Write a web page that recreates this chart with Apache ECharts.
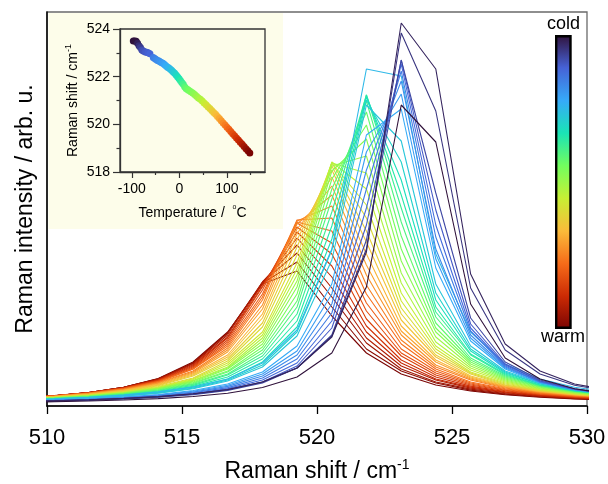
<!DOCTYPE html>
<html><head><meta charset="utf-8">
<script src="https://cdn.jsdelivr.net/npm/echarts@6/dist/echarts.min.js"></script>
<style>html,body{margin:0;padding:0;background:#fff}#c{width:608px;height:484px}</style>
</head><body><div id="c"></div>
<script>
// Raman shift grid (cm-1) shared by all spectra
const ramanShift = [508.98, 510.27, 511.55, 512.84, 514.12, 515.41, 516.69, 517.98, 519.26, 520.55, 521.83, 523.12, 524.40, 525.69, 526.97, 528.26, 529.54, 530.83];
// spectra, cold (s00) -> warm (s40), intensity in arb. u.
const s00 = [2.7, 3.3, 4.0, 5.0, 6.4, 8.5, 11.8, 17.5, 28, 52, 118, 300, 263, 101, 47, 26, 16.2, 11.1];
const s01 = [3.6, 4.3, 5.3, 6.6, 8.4, 11.2, 15.5, 23, 37, 68, 153, 382, 336, 131, 61, 34, 21, 14.6];
const s02 = [3.5, 4.2, 5.1, 6.4, 8.2, 11.0, 15.3, 23, 37, 69, 156, 372, 294, 117, 55, 31, 19.8, 13.6];
const s03 = [3.2, 3.9, 4.7, 6.0, 7.7, 10.3, 14.6, 22, 37, 70, 165, 345, 212, 87, 43, 25, 16.2, 11.3];
const s04 = [3.3, 4.0, 4.9, 6.2, 8.1, 10.9, 15.4, 23, 39, 77, 180, 345, 195, 81, 41, 24, 15.9, 11.2];
const s05 = [3.5, 4.2, 5.2, 6.5, 8.5, 11.5, 16.4, 25, 42, 84, 197, 341, 180, 77, 40, 24, 15.7, 11.1];
const s06 = [3.6, 4.4, 5.4, 6.9, 9.0, 12.2, 17.4, 27, 46, 92, 216, 334, 168, 74, 39, 23, 15.6, 11.1];
const s07 = [3.8, 4.6, 5.7, 7.2, 9.5, 12.9, 18.6, 29, 50, 101, 235, 324, 156, 70, 38, 23, 15.5, 11.1];
const s08 = [4.0, 4.8, 6.0, 7.6, 10.0, 13.7, 19.8, 31, 54, 111, 253, 311, 146, 67, 37, 23, 15.4, 11.0];
const s09 = [4.2, 5.1, 6.3, 8.0, 10.5, 14.5, 21, 33, 59, 121, 270, 296, 137, 64, 36, 22, 15.3, 11.0];
const s10 = [5.1, 6.2, 7.7, 9.9, 13.1, 18.0, 26, 42, 75, 156, 336, 329, 151, 73, 41, 26, 17.8, 12.9];
const s11 = [4.5, 5.5, 6.9, 8.9, 11.7, 16.3, 24, 38, 69, 145, 300, 264, 121, 59, 34, 22, 15.0, 11.0];
const s12 = [4.6, 5.7, 7.1, 9.1, 12.1, 16.9, 25, 40, 73, 155, 305, 243, 112, 56, 33, 21, 14.6, 10.7];
const s13 = [4.8, 5.9, 7.3, 9.5, 12.6, 17.7, 26, 43, 78, 166, 308, 225, 105, 54, 32, 21, 14.4, 10.6];
const s14 = [5.0, 6.1, 7.6, 9.9, 13.2, 18.6, 28, 46, 84, 179, 310, 210, 98, 51, 31, 20, 14.2, 10.5];
const s15 = [5.2, 6.4, 8.0, 10.4, 13.9, 19.6, 30, 49, 91, 193, 310, 197, 93, 50, 30, 19.8, 14.0, 10.4];
const s16 = [5.3, 6.6, 8.3, 10.8, 14.5, 20.6, 31, 52, 98, 206, 304, 183, 88, 47, 29, 19.4, 13.8, 10.3];
const s17 = [5.5, 6.7, 8.5, 11.1, 15.0, 21.4, 33, 55, 104, 216, 293, 169, 82, 45, 28, 18.8, 13.5, 10.1];
const s18 = [5.6, 6.9, 8.8, 11.4, 15.5, 22.3, 34, 58, 111, 226, 280, 156, 77, 43, 27, 18.2, 13.1, 9.9];
const s19 = [5.7, 7.1, 9.0, 11.8, 16.1, 23.1, 36, 61, 118, 234, 266, 144, 73, 41, 26, 17.7, 12.8, 9.7];
const s20 = [5.8, 7.2, 9.2, 12.1, 16.5, 23.9, 37, 64, 124, 239, 249, 132, 68, 39, 25, 17.0, 12.4, 9.4];
const s21 = [5.9, 7.3, 9.3, 12.3, 16.9, 24.6, 38, 67, 130, 242, 232, 122, 63, 37, 24, 16.4, 12.0, 9.1];
const s22 = [6.0, 7.4, 9.5, 12.6, 17.4, 25.4, 40, 70, 136, 243, 216, 112, 59, 35, 23, 15.8, 11.6, 8.8];
const s23 = [6.1, 7.6, 9.7, 12.9, 17.8, 26.2, 42, 73, 142, 242, 200, 104, 56, 33, 22, 15.2, 11.2, 8.6];
const s24 = [6.2, 7.8, 10.0, 13.3, 18.5, 27, 44, 78, 150, 242, 187, 97, 53, 32, 21, 14.8, 11.0, 8.4];
const s25 = [6.4, 8.0, 10.3, 13.7, 19.2, 29, 46, 82, 158, 239, 174, 91, 50, 31, 20, 14.4, 10.8, 8.3];
const s26 = [6.5, 8.2, 10.6, 14.2, 19.9, 30, 48, 87, 165, 235, 163, 85, 48, 29, 19.7, 14.1, 10.5, 8.1];
const s27 = [6.6, 8.4, 10.8, 14.6, 20.6, 31, 50, 91, 171, 228, 151, 79, 45, 28, 19.0, 13.6, 10.2, 7.9];
const s28 = [6.8, 8.5, 11.1, 15.0, 21.2, 32, 53, 96, 176, 219, 140, 74, 43, 27, 18.4, 13.2, 10.0, 7.8];
const s29 = [6.9, 8.7, 11.4, 15.4, 21.9, 33, 55, 100, 181, 210, 130, 70, 40, 26, 17.7, 12.8, 9.7, 7.6];
const s30 = [7.0, 8.9, 11.6, 15.8, 22.5, 34, 57, 105, 184, 199, 120, 65, 38, 25, 17.0, 12.4, 9.4, 7.4];
const s31 = [7.1, 9.0, 11.8, 16.1, 23.1, 36, 59, 108, 185, 187, 111, 61, 36, 23, 16.3, 11.9, 9.1, 7.1];
const s32 = [7.1, 9.1, 11.9, 16.3, 23.5, 36, 61, 111, 183, 174, 102, 56, 34, 22, 15.5, 11.4, 8.7, 6.9];
const s33 = [7.2, 9.2, 12.1, 16.6, 24.0, 37, 63, 115, 182, 162, 94, 52, 32, 21, 14.8, 11.0, 8.4, 6.6];
const s34 = [7.2, 9.2, 12.2, 16.9, 24.5, 38, 65, 118, 178, 151, 86, 49, 30, 20, 14.2, 10.5, 8.1, 6.4];
const s35 = [7.2, 9.3, 12.3, 17.0, 24.8, 39, 67, 119, 173, 139, 79, 45, 28, 18.9, 13.4, 10.0, 7.7, 6.1];
const s36 = [7.2, 9.3, 12.4, 17.2, 25.3, 40, 68, 121, 167, 128, 73, 42, 26, 17.9, 12.8, 9.6, 7.4, 5.9];
const s37 = [7.2, 9.3, 12.5, 17.4, 25.7, 41, 70, 123, 160, 117, 67, 39, 25, 16.9, 12.2, 9.1, 7.1, 5.7];
const s38 = [7.2, 9.4, 12.5, 17.6, 26.0, 42, 72, 123, 152, 108, 62, 36, 23, 15.9, 11.5, 8.7, 6.8, 5.4];
const s39 = [7.2, 9.3, 12.5, 17.6, 26.2, 42, 72, 122, 143, 98, 56, 34, 22, 14.9, 10.9, 8.2, 6.4, 5.1];
const s40 = [7.1, 9.3, 12.5, 17.6, 26.4, 43, 73, 121, 134, 89, 52, 31, 20, 14.0, 10.3, 7.8, 6.1, 4.9];
const spectraList = [s00,s01,s02,s03,s04,s05,s06,s07,s08,s09,s10,s11,s12,s13,s14,s15,s16,s17,s18,s19,s20,
                     s21,s22,s23,s24,s25,s26,s27,s28,s29,s30,s31,s32,s33,s34,s35,s36,s37,s38,s39,s40];

// inset: peak position vs temperature
const insetTemperature = [-97,-94,-91,-88,-85,-82,-79,-76,-72,-69,-66,-62,-55,-52,-49,-46,-43,-40,-37,-34,
  -31,-28,-25,-22,-19,-16,-13,-10,-7,-4,-1,2,5,8,11,14,17,20,24,28,32,36,40,44,48,52,56,60,64,68,
  72,76,80,84,88,92,96,100,104,108,112,116,120,124,128,132,136,140,144,148];
const insetShift = [523.50,523.50,523.49,523.40,523.30,523.22,523.12,523.08,523.04,523.02,523.00,522.96,522.80,522.76,522.72,522.68,522.66,522.62,522.58,522.55,
  522.50,522.45,522.40,522.36,522.31,522.26,522.20,522.14,522.07,522.00,521.92,521.84,521.76,521.68,521.58,521.50,521.46,521.42,521.37,521.31,
  521.25,521.18,521.11,521.05,520.98,520.90,520.82,520.74,520.66,520.58,520.50,520.42,520.33,520.24,520.15,520.06,519.97,519.88,519.79,519.70,
  519.61,519.52,519.43,519.34,519.25,519.16,519.07,518.98,518.89,518.80];

// tick labels
const insetXMajorTicks = [-100, 0, 100];
const insetXMinorTicks = [-50, 50, 150];
const colorbarLabels = ['cold', 'warm'];

const FONT = '"Liberation Sans", Arial, Helvetica, sans-serif';
const turboStops = ['#30123b','#4662d7','#36aaf9','#1ae4b6','#72fe5e','#c7ef34','#fabb3a','#f66b19','#cb2a04','#7a0403'];
function h2r(h){return [parseInt(h.substr(1,2),16),parseInt(h.substr(3,2),16),parseInt(h.substr(5,2),16)];}
function turbo(t){
  t = Math.max(0, Math.min(1, t));
  const p = t * (turboStops.length - 1);
  const i = Math.min(turboStops.length - 2, Math.floor(p));
  const f = p - i;
  const a = h2r(turboStops[i]), b = h2r(turboStops[i+1]);
  return 'rgb(' + a.map((v,j)=>Math.round(v + (b[j]-v)*f)).join(',') + ')';
}

const chart = echarts.init(document.getElementById('c'), null, {renderer:'canvas'});
const series = [];
const n = spectraList.length;
for (let k = n - 1; k >= 0; k--) {
  series.push({
    type:'line', xAxisIndex:0, yAxisIndex:0, name:'T' + k,
    data: ramanShift.map((x,i)=>[x, spectraList[k][i]]),
    symbol:'none', showSymbol:false, silent:true, clip:true, z:2,
    lineStyle:{width:1.1, color: turbo(k/(n-1))}
  });
}
series.push({
  type:'scatter', xAxisIndex:1, yAxisIndex:1, silent:true, z:14,
  symbolSize:7,
  data: insetTemperature.map((t,i)=>({value:[t, insetShift[i]], itemStyle:{color: turbo((523.5 - insetShift[i])/4.7), opacity:1}}))
});

const option = {
  animation:false,
  backgroundColor:'#fff',
  textStyle:{fontFamily:FONT},
  grid:[
    {left:47, top:12, width:540, height:394, show:true, borderColor:'#6a6a6a', borderWidth:1.3, z:0,
     containLabel:false, outerBoundsMode:'none'},
    {left:120, top:29, width:145, height:143, show:true, borderColor:'#333', borderWidth:1.3, z:12,
     containLabel:false, outerBoundsMode:'none'}
  ],
  xAxis:[
    {gridIndex:0, type:'value', min:510, max:530, interval:5, position:'bottom',
     axisLine:{show:true, onZero:false, lineStyle:{color:'#000', width:1.5}},
     axisTick:{show:true, inside:false, length:8, lineStyle:{color:'#000', width:1.3}},
     axisLabel:{fontSize:22, color:'#000', margin:21, fontFamily:FONT},
     splitLine:{show:false},
     name:'{a|Raman shift / cm}{s|-1}', nameLocation:'middle', nameGap:52,
     nameTextStyle:{rich:{a:{fontSize:23, color:'#000', fontFamily:FONT, lineHeight:28},
                          s:{fontSize:14, color:'#000', fontFamily:FONT, verticalAlign:'top', lineHeight:16}}}},
    {gridIndex:1, type:'value', min:-125, max:180, position:'bottom', z:13,
     axisLine:{show:true, onZero:false, lineStyle:{color:'#333', width:1.3}},
     axisTick:{show:true, inside:false, length:6, customValues:insetXMajorTicks, lineStyle:{color:'#333', width:1.2}},
     axisLabel:{fontSize:14, color:'#000', margin:10, fontFamily:FONT, customValues:insetXMajorTicks},
     splitLine:{show:false},
     name:'{a|Temperature /  }{s|o}{a|C}', nameLocation:'middle', nameGap:32,
     nameTextStyle:{rich:{a:{fontSize:14, color:'#000', fontFamily:FONT, lineHeight:18},
                          s:{fontSize:7, color:'#000', fontFamily:FONT, verticalAlign:'top', lineHeight:8}}}},
    {gridIndex:1, type:'value', min:-125, max:180, position:'bottom', z:13,
     axisLine:{show:false}, axisLabel:{show:false}, splitLine:{show:false},
     axisTick:{show:true, inside:false, length:3, customValues:insetXMinorTicks, lineStyle:{color:'#333', width:1.2}}}
  ],
  yAxis:[
    {gridIndex:0, type:'value', min:-1, max:393, position:'left',
     axisLine:{show:true, onZero:false, lineStyle:{color:'#000', width:1.5}},
     axisTick:{show:false}, axisLabel:{show:false}, splitLine:{show:false},
     name:'Raman intensity / arb. u.', nameLocation:'middle', nameGap:10, nameRotate:90,
     nameTextStyle:{fontSize:23, color:'#000', fontFamily:FONT}},
    {gridIndex:1, type:'value', min:518, max:524, interval:2, position:'left', z:13,
     axisLine:{show:true, onZero:false, lineStyle:{color:'#333', width:1.3}},
     axisTick:{show:true, inside:false, length:7, lineStyle:{color:'#333', width:1.2}},
     minorTick:{show:true, splitNumber:2, length:3.5, lineStyle:{color:'#333', width:1.2}},
     axisLabel:{fontSize:14, color:'#000', margin:10, fontFamily:FONT},
     splitLine:{show:false},
     name:'{a|Raman shift / cm}{s|-1}', nameLocation:'middle', nameGap:38, nameRotate:90,
     nameTextStyle:{rich:{a:{fontSize:14, color:'#000', fontFamily:FONT, lineHeight:18},
                          s:{fontSize:9, color:'#000', fontFamily:FONT, verticalAlign:'top', lineHeight:10}}}}
  ],
  graphic:[
    {type:'rect', z:10, silent:true, shape:{x:48.5, y:13, width:234.5, height:216}, style:{fill:'#fdfdea'}},
    {type:'rect', z:10, silent:true, shape:{x:556.2, y:36.3, width:14.3, height:291.5},
     style:{fill:new echarts.graphic.LinearGradient(0,0,0,1, turboStops.map((c,i)=>({offset:i/(turboStops.length-1), color:c}))),
            stroke:'#000', lineWidth:2.4}},
    {type:'text', z:10, silent:true, x:563.5, y:24,
     style:{text:colorbarLabels[0], font:'18px ' + FONT, fontSize:18, fontFamily:FONT, fill:'#000',
            textAlign:'center', textVerticalAlign:'middle', align:'center', verticalAlign:'middle'}},
    {type:'text', z:10, silent:true, x:563, y:337.5,
     style:{text:colorbarLabels[1], font:'18px ' + FONT, fontSize:18, fontFamily:FONT, fill:'#000',
            textAlign:'center', textVerticalAlign:'middle', align:'center', verticalAlign:'middle'}}
  ],
  series
};
chart.setOption(option);
</script>
</body></html>
